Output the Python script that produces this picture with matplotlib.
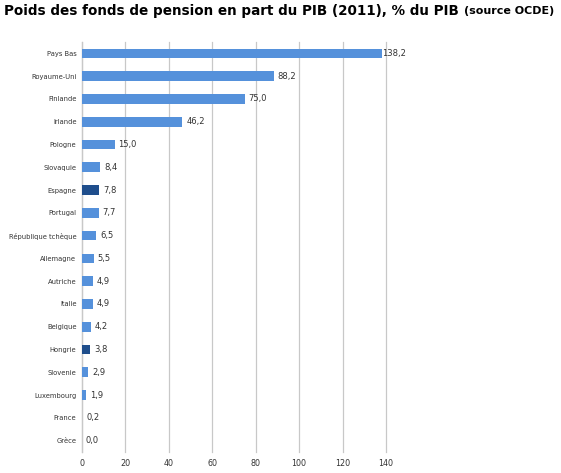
import matplotlib.pyplot as plt

countries = ['Pays Bas', 'Royaume-Uni', 'Finlande', 'Irlande', 'Pologne', 'Slovaquie',
             'Espagne', 'Portugal', 'République tchèque', 'Allemagne', 'Autriche', 'Italie',
             'Belgique', 'Hongrie', 'Slovenie', 'Luxembourg', 'France', 'Grèce']
values = [138.2, 88.2, 75.0, 46.2, 15.0, 8.4, 7.8, 7.7, 6.5, 5.5, 4.9, 4.9,
          4.2, 3.8, 2.9, 1.9, 0.2, 0.0]
highlight = ['Espagne', 'Hongrie']
xticks = [0, 20, 40, 60, 80, 100, 120, 140]

light = '#5591DB'
dark = '#1F4E8C'
colors = [dark if c in highlight else light for c in countries]

fig = plt.figure(figsize=(5.61, 4.73), dpi=100)
ax = fig.add_axes([82/561, 1 - 452/473, 304/561, 410/473])

pos = list(range(len(countries)))
ax.barh(pos, values, height=0.42, color=colors, zorder=3)
ax.set_ylim(len(countries) - 0.5, -0.5)
ax.set_xlim(0, 140)
ax.set_yticks(pos)
ax.set_yticklabels(countries, fontsize=4.9, color='#333333')
ax.set_xticks(xticks)
ax.set_xticklabels([str(t) for t in xticks], fontsize=5.8, color='#333333')
ax.tick_params(length=0, pad=4)
ax.tick_params(axis='x', pad=5)

# vertical grid only
ax.grid(axis='x', color='#c8c8c8', linewidth=0.9, zorder=0)
for line in ax.get_xgridlines():
    line.set_clip_on(False)
for s in ['top', 'right', 'bottom']:
    ax.spines[s].set_visible(False)
ax.spines['left'].set_color('#c8c8c8')
ax.spines['left'].set_linewidth(0.9)

for p, v in zip(pos, values):
    off = 0 if v > 130 else 1.8
    ax.text(v + off, p, f'{v:.1f}'.replace('.', ','), va='center', ha='left',
            fontsize=6, color='#333333', zorder=4)

fig.text(4/561, 1 - 11/473, 'Poids des fonds de pension en part du PIB (2011), % du PIB',
         fontsize=9.75, fontweight='bold', va='center', ha='left')
fig.text(464/561, 1 - 11.5/473, '(source OCDE)', fontsize=8, fontweight='bold',
         va='center', ha='left')

fig.savefig('out.png', dpi=100)
